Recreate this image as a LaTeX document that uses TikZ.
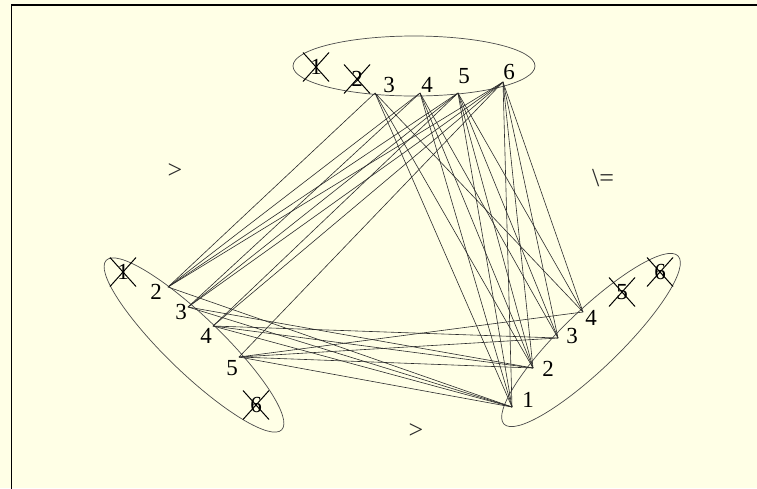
\documentclass[tikz,border=0pt]{standalone}
\usepackage{fontspec}
\setmainfont{Liberation Serif}
\usetikzlibrary{shapes.misc}
\definecolor{paper}{HTML}{FFFFE6}
\definecolor{linegray}{HTML}{2B2B2B}

\begin{document}
\begin{tikzpicture}[x=1pt, y=-1pt,
  edge/.style={draw=linegray, line width=0.6pt},
  group/.style={draw=linegray!85, line width=0.7pt},
  num/.style={font=\fontsize{23}{25}\selectfont, inner sep=0pt},
  crossed/.style={num, cross out, draw=black, line width=1pt,
    minimum width=25pt, minimum height=28pt},
  rel/.style={font=\fontsize{26}{28}\selectfont, text=linegray},
]

% Paper and frame
\path[use as bounding box, fill=paper] (0,0) rectangle (757,488);
\draw[line width=1.8pt] (11.5,5.3) rectangle (790,520);

% Groups
\draw[group] (414,66) ellipse [x radius=121, y radius=30];
\draw[group, rotate around={-44:(194,345)}] (194,345) ellipse [x radius=122, y radius=28];
\draw[group, rotate around={44:(591,340)}] (591,340) ellipse [x radius=121, y radius=29];

% Top group
\foreach \n/\x/\y in {3/375/93, 4/420/93, 5/458/93, 6/503/82}
  \coordinate (t\n) at (\x,\y);
\node[crossed] (t1x) at (316,67) {1};
\node[crossed] (t2x) at (357,79) {2};
\node[num] (t3n) at (389,85) {3};
\node[num] (t4n) at (427,85) {4};
\node[num] (t5n) at (464,76) {5};
\node[num] (t6n) at (509,72) {6};

% Left group
\foreach \n/\x/\y in {2/168/287, 3/188/307, 4/213/326, 5/239/357}
  \coordinate (l\n) at (\x,\y);
\node[crossed] (l1x) at (123,272) {1};
\node[num] (l2n) at (156,292) {2};
\node[num] (l3n) at (181,312) {3};
\node[num] (l4n) at (206,336) {4};
\node[num] (l5n) at (232,368) {5};
\node[crossed] (l6x) at (256,405) {6};

% Right group
\foreach \n/\x/\y in {1/512/407, 2/533/368, 3/558/338, 4/583/312}
  \coordinate (r\n) at (\x,\y);
\node[num] (r1n) at (528,400) {1};
\node[num] (r2n) at (548,369) {2};
\node[num] (r3n) at (572,336) {3};
\node[num] (r4n) at (591,318) {4};
\node[crossed] (r5x) at (622,292) {5};
\node[crossed] (r6x) at (660,272) {6};

% Edges
\foreach \l in {2,...,5}
  \foreach \t in {3,...,6}
    {\ifnum\t>\l \draw[edge] (l\l) -- (t\t);\fi}
\foreach \r in {1,...,4}
  \foreach \t in {3,...,6}
    {\ifnum\t=\r \else \draw[edge] (r\r) -- (t\t);\fi}
\foreach \l in {2,...,5}
  \foreach \r in {1,...,4}
    {\ifnum\l>\r \draw[edge] (l\l) -- (r\r);\fi}

% Relations
\node[rel] (ltrel) at (175,171) {>};
\node[rel] (rtrel) at (603,178) {\textbackslash=};
\node[rel] (lrrel) at (416,431) {>};

\end{tikzpicture}
\end{document}
